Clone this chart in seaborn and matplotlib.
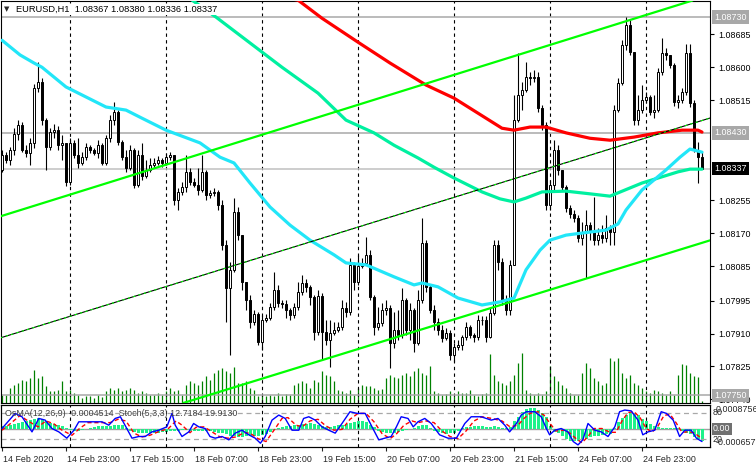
import numpy as np
import matplotlib
matplotlib.use("Agg")
import matplotlib.pyplot as plt
import matplotlib.transforms as mtransforms
from matplotlib import font_manager
import seaborn as sns

# ── data (EURUSD H1, bar 0 = 14 Feb 2020 07:00) ────────────────────────────────

opens = [
    1.08334, 1.08373, 1.08360, 1.08386, 1.08427, 1.08450, 1.08386, 1.08378, 1.08404, 1.08546,
    1.08562, 1.08463, 1.08393, 1.08432, 1.08437, 1.08398, 1.08404, 1.08303, 1.08404, 1.08373,
    1.08352, 1.08367, 1.08393, 1.08386, 1.08378, 1.08398, 1.08352, 1.08417, 1.08463, 1.08484,
    1.08406, 1.08367, 1.08339, 1.08386, 1.08295, 1.08373, 1.08318, 1.08334, 1.08347, 1.08352,
    1.08360, 1.08352, 1.08367, 1.08373, 1.08256, 1.08277, 1.08290, 1.08329, 1.08303, 1.08295,
    1.08282, 1.08329, 1.08269, 1.08274, 1.08277, 1.08243, 1.08139, 1.08028, 1.08075, 1.08225,
    1.08165, 1.08044, 1.07997, 1.07940, 1.07961, 1.07888, 1.07945, 1.07950, 1.07979, 1.08023,
    1.07989, 1.07986, 1.07971, 1.07958, 1.07979, 1.08018, 1.08041, 1.08031, 1.08005, 1.07914,
    1.08008, 1.07914, 1.07893, 1.07911, 1.07919, 1.07927, 1.07976, 1.07966, 1.08088, 1.08044,
    1.08085, 1.08093, 1.08114, 1.08005, 1.07927, 1.07938, 1.07971, 1.07976, 1.07885, 1.07919,
    1.07906, 1.07997, 1.07919, 1.07971, 1.07885, 1.07997, 1.08145, 1.08031, 1.07971, 1.07940,
    1.07919, 1.07898, 1.07911, 1.07855, 1.07875, 1.07880, 1.07901, 1.07927, 1.07906, 1.07901,
    1.07945, 1.07945, 1.07901, 1.07963, 1.08139, 1.08095, 1.07997, 1.07971, 1.08088, 1.08463,
    1.08528, 1.08541, 1.08575, 1.08572, 1.08575, 1.08494, 1.08450, 1.08243, 1.08295, 1.08386,
    1.08334, 1.08290, 1.08235, 1.08219, 1.08209, 1.08158, 1.08173, 1.08191, 1.08173, 1.08152,
    1.08165, 1.08158, 1.08183, 1.08173, 1.08489, 1.08559, 1.08657, 1.08709, 1.08639, 1.08463,
    1.08489, 1.08515, 1.08523, 1.08484, 1.08489, 1.08587, 1.08637, 1.08632, 1.08606, 1.08510,
    1.08515, 1.08536, 1.08637, 1.08507, 1.08386, 1.08367,
]
highs = [
    1.08386, 1.08380, 1.08393, 1.08442, 1.08463, 1.08458, 1.08398, 1.08417, 1.08556, 1.08613,
    1.08572, 1.08468, 1.08442, 1.08453, 1.08447, 1.08424, 1.08404, 1.08417, 1.08411, 1.08417,
    1.08380, 1.08404, 1.08398, 1.08391, 1.08411, 1.08404, 1.08424, 1.08476, 1.08510, 1.08489,
    1.08411, 1.08386, 1.08398, 1.08391, 1.08386, 1.08404, 1.08360, 1.08365, 1.08365, 1.08370,
    1.08365, 1.08378, 1.08380, 1.08373, 1.08287, 1.08303, 1.08373, 1.08339, 1.08313, 1.08339,
    1.08373, 1.08334, 1.08282, 1.08287, 1.08282, 1.08256, 1.08152, 1.08095, 1.08261, 1.08238,
    1.08165, 1.08044, 1.08010, 1.07971, 1.07966, 1.07958, 1.07961, 1.07989, 1.08070, 1.08036,
    1.07997, 1.07997, 1.07976, 1.07989, 1.08044, 1.08062, 1.08052, 1.08036, 1.08010, 1.08023,
    1.08015, 1.07945, 1.07945, 1.07940, 1.07940, 1.07997, 1.07992, 1.08106, 1.08095, 1.08114,
    1.08106, 1.08160, 1.08127, 1.08010, 1.07979, 1.07989, 1.07997, 1.07984, 1.07966, 1.07971,
    1.08028, 1.08002, 1.07989, 1.07976, 1.08023, 1.08209, 1.08152, 1.08036, 1.07984, 1.07950,
    1.07932, 1.07924, 1.07919, 1.07885, 1.07893, 1.07906, 1.07940, 1.07932, 1.07911, 1.07958,
    1.07956, 1.07956, 1.07976, 1.08152, 1.08152, 1.08106, 1.08010, 1.08101, 1.08528, 1.08637,
    1.08562, 1.08613, 1.08587, 1.08593, 1.08587, 1.08502, 1.08458, 1.08308, 1.08411, 1.08398,
    1.08334, 1.08295, 1.08243, 1.08230, 1.08217, 1.08199, 1.08230, 1.08199, 1.08264, 1.08183,
    1.08191, 1.08217, 1.08191, 1.08502, 1.08572, 1.08670, 1.08730, 1.08722, 1.08639, 1.08528,
    1.08554, 1.08536, 1.08528, 1.08528, 1.08598, 1.08676, 1.08650, 1.08632, 1.08611, 1.08528,
    1.08546, 1.08660, 1.08660, 1.08515, 1.08406, 1.08380,
]
lows = [
    1.08329, 1.08352, 1.08347, 1.08373, 1.08411, 1.08380, 1.08367, 1.08347, 1.08391, 1.08536,
    1.08450, 1.08334, 1.08386, 1.08417, 1.08386, 1.08360, 1.08292, 1.08295, 1.08365, 1.08339,
    1.08347, 1.08360, 1.08378, 1.08373, 1.08365, 1.08347, 1.08347, 1.08406, 1.08450, 1.08398,
    1.08360, 1.08329, 1.08334, 1.08287, 1.08290, 1.08308, 1.08313, 1.08329, 1.08339, 1.08347,
    1.08341, 1.08347, 1.08360, 1.08243, 1.08230, 1.08269, 1.08277, 1.08295, 1.08290, 1.08269,
    1.08277, 1.08256, 1.08261, 1.08266, 1.08230, 1.08126, 1.07940, 1.07855, 1.08070, 1.08152,
    1.08023, 1.07971, 1.07924, 1.07932, 1.07880, 1.07867, 1.07940, 1.07945, 1.07971, 1.07979,
    1.07976, 1.07950, 1.07945, 1.07950, 1.07971, 1.08010, 1.08018, 1.07984, 1.07893, 1.07906,
    1.07842, 1.07880, 1.07823, 1.07906, 1.07914, 1.07919, 1.07953, 1.07958, 1.08023, 1.08036,
    1.08080, 1.08088, 1.07997, 1.07906, 1.07919, 1.07930, 1.07958, 1.07821, 1.07873, 1.07893,
    1.07898, 1.07906, 1.07893, 1.07862, 1.07880, 1.07989, 1.08018, 1.07963, 1.07919, 1.07906,
    1.07888, 1.07893, 1.07842, 1.07836, 1.07867, 1.07867, 1.07893, 1.07898, 1.07888, 1.07893,
    1.07932, 1.07888, 1.07898, 1.07958, 1.08075, 1.07984, 1.07958, 1.07958, 1.08088, 1.08458,
    1.08489, 1.08536, 1.08554, 1.08562, 1.08484, 1.08437, 1.08230, 1.08230, 1.08282, 1.08321,
    1.08282, 1.08225, 1.08209, 1.08199, 1.08147, 1.08139, 1.08054, 1.08152, 1.08139, 1.08139,
    1.08145, 1.08147, 1.08139, 1.08139, 1.08484, 1.08554, 1.08644, 1.08632, 1.08450, 1.08450,
    1.08481, 1.08507, 1.08476, 1.08468, 1.08484, 1.08580, 1.08619, 1.08598, 1.08499, 1.08494,
    1.08507, 1.08528, 1.08497, 1.08380, 1.08300, 1.08336,
]
closes = [
    1.08373, 1.08360, 1.08386, 1.08427, 1.08450, 1.08386, 1.08378, 1.08404, 1.08546, 1.08562,
    1.08463, 1.08393, 1.08432, 1.08437, 1.08398, 1.08404, 1.08303, 1.08404, 1.08373, 1.08352,
    1.08367, 1.08393, 1.08386, 1.08378, 1.08398, 1.08352, 1.08417, 1.08463, 1.08484, 1.08406,
    1.08367, 1.08339, 1.08386, 1.08295, 1.08373, 1.08318, 1.08334, 1.08347, 1.08352, 1.08360,
    1.08352, 1.08367, 1.08373, 1.08256, 1.08277, 1.08290, 1.08329, 1.08303, 1.08295, 1.08282,
    1.08329, 1.08269, 1.08274, 1.08277, 1.08243, 1.08139, 1.08028, 1.08075, 1.08225, 1.08165,
    1.08044, 1.07997, 1.07940, 1.07961, 1.07888, 1.07945, 1.07950, 1.07979, 1.08023, 1.07989,
    1.07986, 1.07971, 1.07958, 1.07979, 1.08018, 1.08041, 1.08031, 1.08005, 1.07914, 1.08008,
    1.07914, 1.07893, 1.07911, 1.07919, 1.07927, 1.07976, 1.07966, 1.08088, 1.08044, 1.08085,
    1.08093, 1.08114, 1.08005, 1.07927, 1.07938, 1.07971, 1.07976, 1.07885, 1.07919, 1.07906,
    1.07997, 1.07919, 1.07971, 1.07885, 1.07997, 1.08145, 1.08031, 1.07971, 1.07940, 1.07919,
    1.07898, 1.07911, 1.07855, 1.07875, 1.07880, 1.07901, 1.07927, 1.07906, 1.07901, 1.07945,
    1.07945, 1.07901, 1.07963, 1.08139, 1.08095, 1.07997, 1.07971, 1.08088, 1.08463, 1.08528,
    1.08541, 1.08575, 1.08572, 1.08575, 1.08494, 1.08450, 1.08243, 1.08295, 1.08386, 1.08334,
    1.08290, 1.08235, 1.08219, 1.08209, 1.08158, 1.08173, 1.08191, 1.08173, 1.08152, 1.08165,
    1.08158, 1.08183, 1.08173, 1.08489, 1.08559, 1.08657, 1.08709, 1.08639, 1.08463, 1.08489,
    1.08515, 1.08523, 1.08484, 1.08489, 1.08587, 1.08637, 1.08632, 1.08606, 1.08510, 1.08515,
    1.08536, 1.08637, 1.08507, 1.08386, 1.08367, 1.08337,
]
volumes = [
    800, 800, 1500, 1800, 2000, 2300, 2200, 2500, 3300, 2500,
    2700, 1700, 1200, 1200, 1300, 2200, 1200, 1300, 1000, 800,
    500, 700, 700, 500, 800, 600, 1200, 1500, 1300, 1500,
    1200, 1300, 1500, 1300, 1000, 1200, 1000, 800, 800, 1000,
    800, 1200, 1500, 1200, 1300, 800, 1800, 2200, 2000, 1800,
    2200, 2700, 2300, 3000, 3300, 3500, 3200, 3000, 3600, 2000,
    2000, 2200, 1500, 1300, 700, 800, 700, 800, 700, 1000,
    700, 900, 800, 1800, 2000, 2200, 2000, 1500, 2300, 2100,
    3200, 2800, 2700, 2200, 1300, 1200, 1000, 1300, 800, 1500,
    1800, 1700, 1700, 1500, 1300, 1400, 2500, 2800, 2600, 2500,
    2800, 3000, 2700, 3200, 3500, 3000, 2800, 3700, 1200, 1000,
    800, 900, 1200, 700, 1200, 1000, 1000, 1300, 800, 700,
    900, 1000, 4900, 2800, 2200, 2000, 1800, 2200, 2800, 4000,
    5000, 1300, 1000, 800, 1000, 800, 1200, 3700, 2700, 2200,
    1800, 1500, 1000, 800, 800, 3000, 4000, 3500, 2500, 2200,
    1800, 2000, 4500, 4200, 4500, 3000, 2500, 2800, 2000, 1800,
    1500, 1200, 1000, 1300, 1200, 1000, 800, 1200, 800, 2800,
    3900, 3800, 3000, 2700, 2600, 200,
]
osma = [
    0.00010, 0.00012, 0.00015, 0.00018, 0.00021, 0.00024, 0.00028, 0.00033, 0.00038, 0.00040,
    0.00038, 0.00030, 0.00022, 0.00017, 0.00014, 0.00010, 0.00002, -0.00005, -0.00008, -0.00007,
    -0.00004, -0.00001, 0.00004, 0.00008, 0.00010, 0.00011, 0.00011, 0.00012, 0.00014, 0.00015,
    0.00013, 0.00004, -0.00006, -0.00012, -0.00015, -0.00016, -0.00016, -0.00015, -0.00014, -0.00013,
    -0.00012, -0.00010, -0.00007, -0.00006, -0.00006, -0.00005, -0.00005, -0.00006, -0.00006, -0.00007,
    -0.00008, -0.00008, -0.00009, -0.00010, -0.00013, -0.00016, -0.00020, -0.00024, -0.00027, -0.00028,
    -0.00028, -0.00027, -0.00027, -0.00026, -0.00025, -0.00023, -0.00020, -0.00012, -0.00005, 0.00003,
    0.00008, 0.00010, 0.00012, 0.00013, 0.00015, 0.00018, 0.00020, 0.00021, 0.00020, 0.00016,
    0.00010, 0.00007, 0.00008, 0.00010, 0.00013, 0.00015, 0.00017, 0.00022, 0.00027, 0.00029,
    0.00028, 0.00024, 0.00015, 0.00006, -0.00006, -0.00012, -0.00015, -0.00016, -0.00014, -0.00010,
    -0.00006, -0.00003, -0.00001, 0.00004, 0.00012, 0.00016, 0.00013, 0.00005, -0.00006, -0.00012,
    -0.00016, -0.00017, -0.00016, -0.00014, -0.00008, 0.00002, 0.00007, 0.00009, 0.00010, 0.00010,
    0.00010, 0.00009, 0.00008, 0.00011, 0.00008, 0.00002, 0.00002, 0.00006, 0.00030, 0.00045,
    0.00062, 0.00074, 0.00078, 0.00077, 0.00070, 0.00058, 0.00045, 0.00010, -0.00010, -0.00015,
    -0.00025, -0.00035, -0.00042, -0.00045, -0.00044, -0.00040, -0.00036, -0.00030, -0.00027, -0.00024,
    -0.00022, -0.00020, -0.00018, 0.00005, 0.00025, 0.00040, 0.00052, 0.00058, 0.00057, 0.00050,
    0.00038, 0.00028, 0.00020, 0.00012, 0.00006, 0.00004, 0.00005, 0.00004, 0.00003, 0.00002,
    -0.00008, -0.00015, -0.00020, -0.00028, -0.00038, -0.00045,
]

# moving averages, read at points along each curve (bar, price)
ma_red_bar = [55, 74, 80, 89, 97, 106, 113, 121, 125, 128, 132, 136, 141, 147, 152, 158, 164, 170, 174, 175]
ma_red = [1.08810, 1.08774, 1.08727, 1.08665, 1.08611, 1.08554, 1.08520, 1.08468, 1.08442, 1.08437,
          1.08445, 1.08445, 1.08430, 1.08416, 1.08411, 1.08419, 1.08430, 1.08437, 1.08437, 1.08432]
ma_green_bar = [40, 47.5, 53.5, 62, 70, 79, 86, 93, 98, 104, 108, 113, 120, 124.5, 128, 131, 135,
                141, 147, 152, 160, 169, 172, 175]
ma_green = [1.08826, 1.08774, 1.08730, 1.08663, 1.08600, 1.08533, 1.08463, 1.08430, 1.08398, 1.08365,
            1.08341, 1.08313, 1.08277, 1.08259, 1.08251, 1.08261, 1.08277, 1.08279, 1.08272, 1.08266,
            1.08300, 1.08329, 1.08336, 1.08336]
ma_cyan_bar = [0, 4.5, 8, 10, 16, 26, 31, 35, 41, 49.5, 54.5, 58, 62, 67, 72, 77, 83, 86, 91, 98,
               103, 105, 109, 114, 120, 124.5, 128, 131, 134.5, 137, 141, 147, 151, 154, 156, 160,
               166, 169.5, 172, 175]
ma_cyan = [1.08670, 1.08632, 1.08611, 1.08600, 1.08549, 1.08497, 1.08489, 1.08468, 1.08437, 1.08404,
           1.08367, 1.08352, 1.08300, 1.08238, 1.08191, 1.08152, 1.08114, 1.08093, 1.08088, 1.08057,
           1.08036, 1.08041, 1.08031, 1.08002, 1.07984, 1.07992, 1.08002, 1.08075, 1.08126, 1.08152,
           1.08165, 1.08173, 1.08178, 1.08194, 1.08230, 1.08282, 1.08334, 1.08367, 1.08388, 1.08380]

# trend channel, two anchors per line (bar, price)
chan_upper = [(0, 1.08215), (172, 1.08771)]
chan_mid = [(0, 1.07900), (175, 1.08462)]
chan_lower = [(0, 1.07585), (175, 1.08145)]
levels = [1.08730, 1.08430, 1.07750]
bid = 1.08337

# stochastic (5,3,3), read at turning points (bar, value)
stoch_bar = [0, 3.3, 5, 7.5, 9.2, 10.8, 12.5, 14.2, 16.2, 18, 19.2, 21.7, 25, 26.7, 28.3, 29.6, 31.2,
             32.5, 34.2, 35.8, 37.5, 39.2, 41.2, 42.5, 43.3, 45, 46.7, 47.9, 49.2, 50.8, 52, 53.3,
             55, 56.7, 58.3, 60, 61.7, 63.3, 64.6, 65.8, 67.5, 69.2, 70.8, 72.5, 74.2, 75.4, 76.7,
             78.3, 80, 81.7, 83.3, 85, 87, 88.8, 90.8, 92.5, 94.2, 95.7, 97.3, 98.6, 99.8, 101.5,
             102.8, 104, 105.7, 107.3, 109.4, 111.5, 113.6, 115.7, 117.3, 119.8, 122.3, 124, 125.7,
             126.9, 128.6, 129.8, 131.1, 133.2, 134.8, 136.1, 136.9, 138.2, 139.8, 141.5, 142.8,
             144, 145.2, 146.5, 148.2, 149.8, 151.5, 153.2, 154.4, 155.7, 157.3, 159, 160.2, 161.5,
             163.2, 164.8, 166.1, 167.8, 169.4, 170.7, 172.3, 173.6, 175]
stoch_main = [44, 80, 72, 36, 68, 64, 44, 36, 21, 40, 60, 60, 60, 52, 68, 72, 44,
              21, 25, 25, 36, 40, 48, 80, 52, 25, 36, 56, 48, 44, 25, 21,
              25, 17, 33, 40, 29, 21, 9, 25, 64, 76, 68, 40, 40, 68, 72,
              64, 48, 40, 33, 56, 84, 80, 80, 48, 17, 21, 25, 48, 72, 68,
              48, 60, 68, 56, 29, 21, 21, 56, 72, 72, 64, 68, 52,
              36, 56, 76, 84, 84, 72, 44, 29, 40, 44, 36, 13,
              5, 17, 56, 40, 36, 25, 48, 84, 88, 86, 64, 29, 36,
              40, 84, 80, 64, 25, 40, 40, 21, 13]
signal_bar = [0, 2, 4.5, 6.5, 9, 11, 13, 15, 17.5, 19.5, 21.5, 25, 27, 29, 31, 33, 35, 37, 39.5,
              41.5, 43.5, 45, 47, 48.5, 50.5, 52.5, 54.5, 56.5, 58.5, 60.5, 62, 64, 66, 68, 70,
              71.5, 73.5, 75, 77, 79, 81, 83, 85, 87, 89, 91, 93, 95, 97, 98.5, 100.5, 102.5, 104,
              106, 108, 110, 112, 114, 116, 118, 120, 122.5, 125, 127, 129, 130.5, 132, 134, 135.5,
              137, 138.5, 140.5, 142, 143.5, 145, 146.5, 148, 150, 152, 153.5, 155, 156.5, 158,
              159.5, 161, 162.5, 164, 165.5, 167, 168.5, 170, 171.5, 173, 175]
stoch_signal = [40, 55, 75, 62, 48, 62, 55, 40, 28, 45, 58, 58, 58, 66, 62, 33, 24, 28, 38,
                43, 62, 52, 34, 47, 48, 36, 24, 21, 24, 34, 33, 20, 13, 40, 68,
                70, 52, 48, 62, 66, 50, 40, 42, 66, 80, 80, 60, 32, 20, 30, 52, 62, 58,
                62, 58, 38, 25, 20, 38, 62, 72, 68, 62, 48, 52, 68, 80, 84, 76,
                56, 38, 40, 33, 20, 10, 25, 44, 44, 35, 35, 62, 82, 84,
                70, 45, 35, 50, 75, 78, 58, 35, 36, 34, 20]

day_starts = [17, 41, 65, 89, 113, 137, 161]
time_bars = [0, 16, 32, 48, 64, 80, 96, 112, 128, 144, 160]
time_labels = ["14 Feb 2020", "14 Feb 23:00", "17 Feb 15:00", "18 Feb 07:00", "18 Feb 23:00",
               "19 Feb 15:00", "20 Feb 07:00", "20 Feb 23:00", "21 Feb 15:00", "24 Feb 07:00",
               "24 Feb 23:00"]
price_ticks = [1.08685, 1.08600, 1.08515, 1.08255, 1.08170, 1.08085,
               1.07995, 1.07910, 1.07825, 1.07740]

# ── figure ─────────────────────────────────────────────────────────────────────

sns.set_style("white")
installed = {f.name for f in font_manager.fontManager.ttflist}
if "Liberation Sans Narrow" in installed:
    FONT, FS = "Liberation Sans Narrow", 7.7
else:
    FONT, FS = "Liberation Sans", 6.4
plt.rcParams["font.family"] = [FONT, "DejaVu Sans"]
plt.rcParams["font.size"] = FS

W, H = 756, 467
fig = plt.figure(figsize=(W / 100, H / 100), dpi=100)


def px_box(x0, y0, x1, y1):
    return [x0 / W, 1 - y1 / H, (x1 - x0) / W, (y1 - y0) / H]


ax = fig.add_axes(px_box(0.5, 0.5, 710, 403))
vax = ax.twinx()
sub = fig.add_axes(px_box(0.5, 405, 710, 447))
hax = sub.twinx()

bars = np.arange(len(closes))
o, h, l, c = map(np.asarray, (opens, highs, lows, closes))
xlim = (-0.375, 177)

# volumes (behind everything in the main window)
vax.vlines(bars, 0, volumes, color="#008000", lw=0.9)
vax.set_ylim(0, 40250)
vax.set_yticks([])
ax.set_zorder(vax.get_zorder() + 1)
ax.patch.set_visible(False)

# grid / level lines
for d in day_starts:
    ax.axvline(d, color="black", lw=0.8, ls=(0, (3, 3)), zorder=1)
    sub.axvline(d, color="black", lw=0.8, ls=(0, (3, 3)), zorder=1)
for lv in levels:
    ax.axhline(lv, color="#a8a8a8", lw=1.1, zorder=1)
ax.axhline(bid, color="#c0c0c0", lw=1.1, zorder=1)

# candles
ax.vlines(bars, l, h, color="black", lw=0.8, zorder=3)
up = c >= o
ax.bar(bars, np.abs(c - o), bottom=np.minimum(o, c), width=0.55,
       color=np.where(up, "white", "black"), edgecolor="black", linewidth=0.7, zorder=4)

# moving averages
sns.lineplot(x=ma_green_bar, y=ma_green, color="#00f0a0", lw=2.3, ax=ax, zorder=5)
sns.lineplot(x=ma_cyan_bar, y=ma_cyan, color="#22e6f8", lw=2.3, ax=ax, zorder=5)
sns.lineplot(x=ma_red_bar, y=ma_red, color="#ff0000", lw=2.3, ax=ax, zorder=5)

# channel
ax.axline(*chan_upper, color="#00ff00", lw=1.6, zorder=6)
ax.axline(*chan_lower, color="#00ff00", lw=1.6, zorder=6)
ax.axline(*chan_mid, color="black", lw=0.8, zorder=6)
ax.axline(*chan_mid, color="#00ff00", lw=0.8, ls=(0, (2, 3)), zorder=6)

ax.set_xlim(*xlim)
ax.set_ylim(1.07730, 1.08773)
ax.set_xticks([])
ax.set_xlabel("")
ax.set_ylabel("")
ax.yaxis.tick_right()
ax.set_yticks(price_ticks)
ax.set_yticklabels([f"{t:.5f}" for t in price_ticks])
ax.tick_params(axis="y", length=3, width=0.8, pad=3, colors="black", labelsize=FS, right=True)
for s in ax.spines.values():
    s.set_color("black")
    s.set_linewidth(0.8)
for s in vax.spines.values():
    s.set_visible(False)

# price labels for the levels
lab_tr = mtransforms.blended_transform_factory(fig.transFigure, ax.transData)
for lv in levels:
    ax.text(714 / W, lv, f"{lv:.5f}", transform=lab_tr, color="white", fontsize=FS,
            va="center", ha="left", zorder=10, clip_on=False,
            bbox=dict(boxstyle="square,pad=0.25", fc="#a8a8a8", ec="none"))
ax.text(714 / W, bid, f"{bid:.5f}", transform=lab_tr, color="white", fontsize=FS,
        va="center", ha="left", zorder=10, clip_on=False,
        bbox=dict(boxstyle="square,pad=0.25", fc="black", ec="none"))

# header
fig.text(4 / W, 1 - 9.5 / H, "▼", fontsize=5, va="center", ha="left", family="DejaVu Sans")
fig.text(16 / W, 1 - 9.5 / H, "EURUSD,H1  1.08367 1.08380 1.08336 1.08337",
         fontsize=FS * 1.04, va="center", ha="left", color="black",
         bbox=dict(boxstyle="square,pad=0.1", fc="white", ec="none"))

# ── sub window: OsMA + Stochastic ──────────────────────────────────────────────

hax.bar(bars, osma, width=0.75, color="#1ef28a", lw=0, zorder=2)
hax.axhline(0, color="#a0a0a0", lw=1.0, zorder=1)
hax.set_ylim(-0.000657, 0.0008756)
hax.set_yticks([])
sub.set_zorder(hax.get_zorder() + 1)
sub.patch.set_visible(False)

sub.axhline(80, color="#a8a8a8", lw=0.9, ls=(0, (4, 3)), zorder=1)
sub.axhline(20, color="#a8a8a8", lw=0.9, ls=(0, (4, 3)), zorder=1)
sns.lineplot(x=stoch_bar, y=stoch_main, color="#0000ff", lw=1.0, ax=sub, zorder=4)
sns.lineplot(x=signal_bar, y=stoch_signal, color="#ff0000", lw=1.0, ax=sub, zorder=3,
             linestyle=(0, (3, 2)))
sub.set_xlim(*xlim)
sub.set_ylim(0, 100)
sub.set_yticks([])
sub.set_ylabel("")
sub.set_xlabel("")
for s in list(sub.spines.values()) + list(hax.spines.values()):
    s.set_color("black")
    s.set_linewidth(0.8)

sub.set_xticks(time_bars)
sub.set_xticklabels(time_labels, ha="left")
sub.tick_params(axis="x", length=3, width=0.8, pad=2.5, labelsize=FS, bottom=True)
shift = mtransforms.ScaledTranslation(1 / 100, 0, fig.dpi_scale_trans)
for t in sub.get_xticklabels():
    t.set_transform(t.get_transform() + shift)

sub.text(5 / W, 1 - 414 / H, "OsMA(12,26,9) -0.0004514  Stoch(5,3,3) 12.7184 19.9130",
         transform=fig.transFigure, fontsize=FS, color="#404040", va="center", ha="left", zorder=6)

sub_tr = mtransforms.blended_transform_factory(fig.transFigure, sub.transData)
osma_tr = mtransforms.blended_transform_factory(fig.transFigure, hax.transData)
sub.text(713 / W, 82, "80", transform=sub_tr, fontsize=FS, va="center", ha="left", clip_on=False)
sub.text(716 / W, 0.0008756, "0.0008756", transform=osma_tr, fontsize=FS, va="top", ha="left",
         clip_on=False)
sub.text(713 / W, 0, "0.00", transform=osma_tr, fontsize=FS, va="center", ha="left", color="white",
         clip_on=False, bbox=dict(boxstyle="square,pad=0.15", fc="#707070", ec="none"))
sub.text(713 / W, 18, "20", transform=sub_tr, fontsize=FS, va="center", ha="left", clip_on=False)
sub.text(716 / W, -0.000657, "-0.000657", transform=osma_tr, fontsize=FS, va="bottom", ha="left",
         clip_on=False)

fig.savefig("out.png", dpi=100, facecolor="white")
